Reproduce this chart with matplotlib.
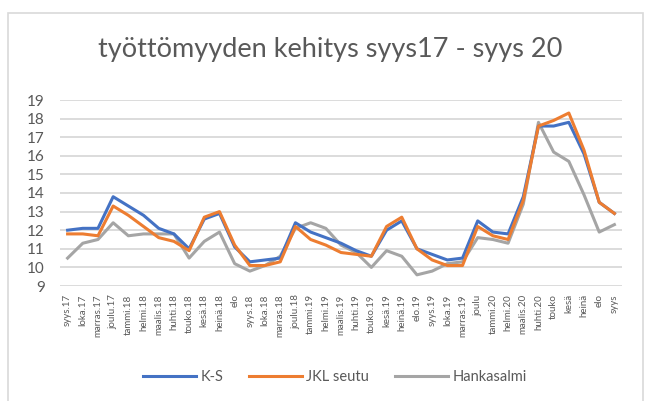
import matplotlib.pyplot as plt
from matplotlib.patches import Rectangle

months = ['syys.17', 'loka.17', 'marras.17', 'joulu.17', 'tammi.18', 'helmi.18',
          'maalis.18', 'huhti.18', 'touko.18', 'kesä.18', 'heinä.18', 'elo',
          'syys.18', 'loka.18', 'marras.18', 'joulu.18', 'tammi.19', 'helmi.19',
          'maalis.19', 'huhti.19', 'touko.19', 'kesä.19', 'heinä.19', 'elo.19',
          'syys.19', 'loka.19', 'marras.19', 'joulu', 'tammi.20', 'helmi.20',
          'maalis.20', 'huhti.20', 'touko', 'kesä', 'heinä', 'elo', 'syys']

ks = [12.0, 12.1, 12.1, 13.8, 13.3, 12.8, 12.1, 11.8, 11.0, 12.6, 12.9, 11.1,
      10.3, 10.4, 10.5, 12.4, 11.9, 11.6, 11.3, 10.9, 10.6, 12.0, 12.5, 11.0,
      10.7, 10.4, 10.5, 12.5, 11.9, 11.8, 13.8, 17.6, 17.6, 17.8, 16.1, 13.5, 12.9]

jkl = [11.8, 11.8, 11.7, 13.3, 12.8, 12.2, 11.6, 11.4, 10.9, 12.7, 13.0, 11.2,
       10.1, 10.1, 10.3, 12.2, 11.5, 11.2, 10.8, 10.7, 10.6, 12.2, 12.7, 11.0,
       10.4, 10.1, 10.1, 12.2, 11.7, 11.5, 13.6, 17.6, 17.9, 18.3, 16.3, 13.5, 12.9]

hankasalmi = [10.5, 11.3, 11.5, 12.4, 11.7, 11.8, 11.8, 11.8, 10.5, 11.4, 11.9, 10.2,
              9.8, 10.1, 10.6, 12.1, 12.4, 12.1, 11.2, 10.8, 10.0, 10.9, 10.6, 9.6,
              9.8, 10.2, 10.3, 11.6, 11.5, 11.3, 13.4, 17.8, 16.2, 15.7, 13.9, 11.9, 12.3]

plt.rcParams['font.family'] = ['Lato', 'DejaVu Sans']
text_color = '#595959'
grid_color = '#D9D9D9'

fig = plt.figure(figsize=(6.46, 4.01), dpi=100)
ax = fig.add_axes([60 / 646, 1 - 286 / 401, (622 - 60) / 646, (286 - 100) / 401])

x = range(len(months))
ax.plot(x, ks, color='#4472C4', lw=2.2, label='K-S', zorder=3)
ax.plot(x, jkl, color='#ED7D31', lw=2.2, label='JKL seutu', zorder=4)
ax.plot(x, hankasalmi, color='#A5A5A5', lw=2.2, label='Hankasalmi', zorder=2)

ax.set_xlim(-0.5, len(months) - 0.5)
ax.set_ylim(9, 19)
ax.set_yticks(range(9, 20))
ax.set_xticks(list(x))
ax.set_xticklabels(months, rotation=90, fontsize=7, color=text_color)
ax.tick_params(axis='y', length=0, pad=11, labelsize=11, labelcolor=text_color)
ax.tick_params(axis='x', length=0, pad=6)
ax.grid(axis='y', color=grid_color, lw=1.3)
ax.set_axisbelow(True)
for s in ax.spines.values():
    s.set_visible(False)

fig.text(330 / 646, 1 - 50 / 401, 'työttömyyden kehitys syys17 - syys 20',
         ha='center', va='center', fontsize=19.5, color=text_color)

fig.legend(loc='center', bbox_to_anchor=(335 / 646, 1 - 377 / 401), ncol=3,
           frameon=False, fontsize=10.5, handlelength=3.6, handletextpad=0.3,
           columnspacing=1.8, labelcolor=text_color)

fig.patches.append(Rectangle((8 / 646, -0.02), (643 - 8) / 646, 1 - 13 / 401 + 0.02,
                             transform=fig.transFigure, fill=False,
                             edgecolor=grid_color, lw=1.2))

fig.savefig('out.png', dpi=100)
